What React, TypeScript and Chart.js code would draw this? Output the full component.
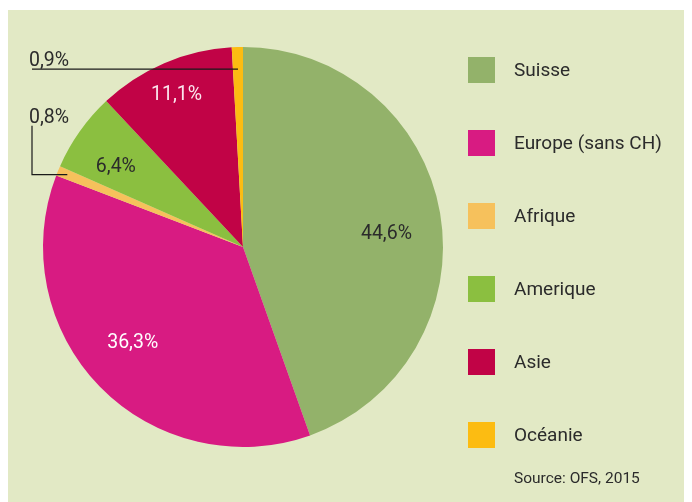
import React, { useEffect, useRef } from "react";
import { Chart, registerables } from "chart.js";

Chart.register(...registerables);

const categories = ["Suisse", "Europe (sans CH)", "Afrique", "Amerique", "Asie", "Océanie"];
const values = [44.6, 36.3, 0.8, 6.4, 11.1, 0.9];
const valueLabels = ["44,6%", "36,3%", "0,8%", "6,4%", "11,1%", "0,9%"];
const colors = ["#93b26a", "#d81b82", "#f6c15c", "#8bbf40", "#c10346", "#fcbc12"];
const labelColors = ["#2b2b2b", "#ffffff", "#2b2b2b", "#2b2b2b", "#fbe6ee", "#2b2b2b"];
// inside labels: position within slice (fraction of angle) and fraction of radius
const insideT = [0.53, 0.526, -1, 0.357, 0.49, -1];
const insideR = [0.72, 0.73, 0, 0.75, 0.83, 0];
const sourceText = "Source: OFS, 2015";

const FONT = "'Roboto', sans-serif";
const BG = "#e2e9c5";

const overlayPlugin = {
  id: "overlay",
  afterDraw(chart: any) {
    const ctx = chart.ctx as CanvasRenderingContext2D;
    const meta = chart.getDatasetMeta(0);
    ctx.save();
    ctx.textBaseline = "middle";
    ctx.font = `400 19.5px ${FONT}`;
    meta.data.forEach((arc: any, i: number) => {
      const { x, y, startAngle, endAngle, outerRadius } = arc.getProps(
        ["x", "y", "startAngle", "endAngle", "outerRadius"],
        true
      );
      if (insideT[i] >= 0) {
        const a = startAngle + insideT[i] * (endAngle - startAngle);
        const r = insideR[i] * outerRadius;
        ctx.fillStyle = labelColors[i];
        ctx.textAlign = "center";
        ctx.fillText(valueLabels[i], x + Math.cos(a) * r, y + Math.sin(a) * r);
      }
    });
    // outside labels with leader lines
    const colX = 24;
    ctx.strokeStyle = "#1a1a1a";
    ctx.lineWidth = 1.2;
    const drawLeader = (i: number, rf: number, up: number) => {
      const arc = meta.data[i];
      const { x, y, startAngle, endAngle, outerRadius } = arc.getProps(
        ["x", "y", "startAngle", "endAngle", "outerRadius"],
        true
      );
      const a = (startAngle + endAngle) / 2;
      const ex = x + Math.cos(a) * outerRadius * rf;
      const ey = y + Math.sin(a) * outerRadius * rf;
      ctx.beginPath();
      ctx.moveTo(ex, ey);
      ctx.lineTo(colX, ey);
      if (up > 0) ctx.lineTo(colX, ey - up);
      ctx.stroke();
      ctx.fillStyle = labelColors[i];
      ctx.textAlign = "left";
      const ty = up > 0 ? ey - up - 8 : ey - 8;
      ctx.fillText(valueLabels[i], colX - 3, ty);
    };
    drawLeader(5, 0.89, 0);
    drawLeader(2, 0.95, 49);

    // legend
    const sqX = 460;
    const txX = 506;
    const row0 = 60;
    const step = 73;
    categories.forEach((c, i) => {
      const cy = row0 + i * step;
      ctx.fillStyle = colors[i];
      ctx.fillRect(sqX, cy - 13, 27, 26);
      ctx.fillStyle = "#2b2b2b";
      ctx.textAlign = "left";
      ctx.font = `400 19px ${FONT}`;
      ctx.fillText(c, txX, cy + 1.5);
    });
    ctx.font = `400 15.5px ${FONT}`;
    ctx.fillStyle = "#2b2b2b";
    ctx.fillText(sourceText, txX, 469.5);
    ctx.restore();
  },
};

export default function App() {
  const ref = useRef<HTMLCanvasElement | null>(null);
  useEffect(() => {
    if (!ref.current) return;
    const chart = new Chart(ref.current, {
      type: "pie",
      data: {
        labels: categories,
        datasets: [
          {
            data: values,
            backgroundColor: colors,
            borderWidth: 0,
          },
        ],
      },
      options: {
        animation: false,
        responsive: false,
        maintainAspectRatio: false,
        layout: { padding: { left: 35, right: 249, top: 37, bottom: 55 } },
        plugins: {
          legend: { display: false },
          tooltip: { enabled: false },
        },
      },
      plugins: [overlayPlugin],
    });
    return () => chart.destroy();
  }, []);
  return (
    <div style={{ marginTop: 2, width: 684, height: 492, background: BG }}>
      <canvas ref={ref} width={684} height={492} style={{ display: "block" }} />
    </div>
  );
}
